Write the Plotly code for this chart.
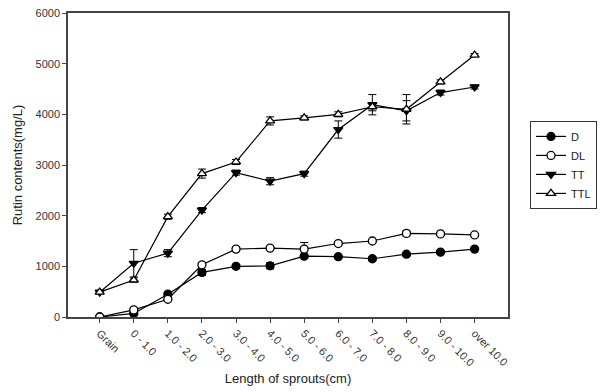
import plotly.graph_objects as go

categories = ["Grain", "0 - 1.0", "1.0 - 2.0", "2.0 - 3.0", "3.0 - 4.0", "4.0 - 5.0",
              "5.0 - 6.0", "6.0 - 7.0", "7.0 - 8.0", "8.0 - 9.0", "9.0 - 10.0", "over 10.0"]

D = [0, 70, 450, 880, 1000, 1010, 1200, 1190, 1150, 1240, 1280, 1340]
D_err = [0, 20, 40, 60, 30, 60, 40, 30, 40, 30, 30, 30]
DL = [0, 140, 350, 1030, 1340, 1360, 1340, 1450, 1500, 1650, 1640, 1620]
DL_err = [0, 20, 30, 40, 40, 30, 130, 30, 30, 50, 30, 30]
TT = [490, 1060, 1260, 2110, 2850, 2680, 2830, 3700, 4190, 4070, 4430, 4540]
TT_err = [30, 270, 70, 50, 50, 70, 50, 170, 200, 200, 50, 40]
TTL = [490, 730, 1980, 2830, 3060, 3870, 3930, 4000, 4150, 4100, 4640, 5170]
TTL_err = [30, 40, 50, 90, 50, 80, 40, 50, 80, 290, 40, 30]

series = [
    ("D", D, D_err, "circle", "black"),
    ("DL", DL, DL_err, "circle", "white"),
    ("TT", TT, TT_err, "triangle-down", "black"),
    ("TTL", TTL, TTL_err, "triangle-up", "white"),
]

fig = go.Figure()
for name, ys, err, sym, fill in series:
    fig.add_trace(go.Scatter(
        x=categories, y=ys, name=name, mode="lines+markers",
        line=dict(color="black", width=1.2),
        marker=dict(symbol=sym, size=8, color=fill, line=dict(color="black", width=1.3)),
        error_y=dict(type="data", array=err, visible=True, color="black", thickness=1, width=4),
    ))

axis_font = dict(family="Arial, Liberation Sans, sans-serif", size=11, color="#333333")

fig.update_layout(
    width=609, height=392,
    margin=dict(l=68, r=95, t=13, b=75),
    paper_bgcolor="white", plot_bgcolor="white",
    font=dict(family="Arial, Liberation Sans, sans-serif", size=11, color="#222222"),
    showlegend=True,
    legend=dict(
        x=1.05, y=0.645, xanchor="left", yanchor="top",
        bordercolor="#333333", borderwidth=1, bgcolor="white",
        font=dict(size=11, color="#222222"),
        tracegroupgap=0, itemwidth=30,
    ),
    xaxis=dict(
        type="category", range=[-0.93, 11.98], automargin=False,
        showline=True, linecolor="#444444", linewidth=1.5, mirror=True,
        ticks="outside", ticklen=4, tickcolor="#444444",
        tickangle=45, tickfont=axis_font, showgrid=False, zeroline=False,
        title=dict(text="Length of sprouts(cm)", font=dict(size=13, color="#222222"), standoff=6),
    ),
    yaxis=dict(
        range=[0, 6000], tickvals=[0, 1000, 2000, 3000, 4000, 5000, 6000], automargin=False,
        showline=True, linecolor="#444444", linewidth=1.5, mirror=True,
        ticks="outside", ticklen=4, tickcolor="#444444",
        tickfont=axis_font, showgrid=False, zeroline=False,
        title=dict(text="Rutin contents(mg/L)", font=dict(size=13, color="#222222"), standoff=10),
    ),
)

fig.write_html("out.html")
